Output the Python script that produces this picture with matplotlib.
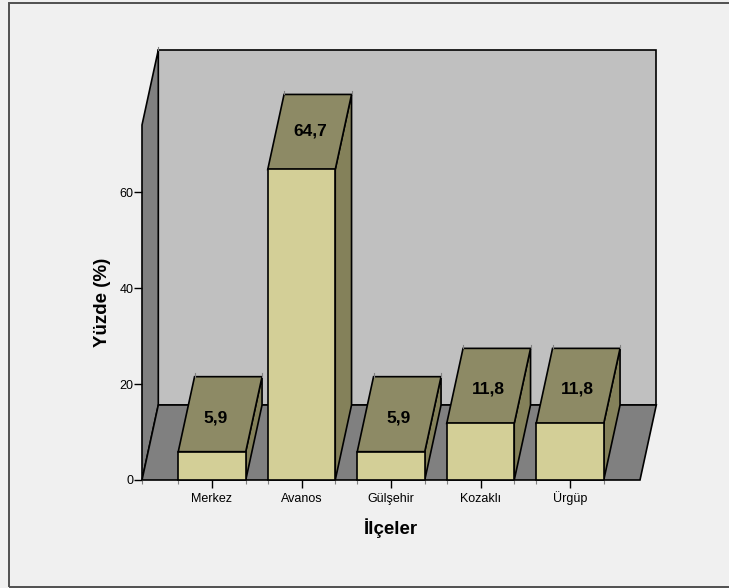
import matplotlib
matplotlib.use("Agg")
import matplotlib.pyplot as plt
from matplotlib.patches import Polygon, Rectangle

plt.rcParams['font.family'] = ['Liberation Sans', 'DejaVu Sans']

categories = ["Merkez", "Avanos", "Gülşehir", "Kozaklı", "Ürgüp"]
values = [5.9, 64.7, 5.9, 11.8, 11.8]
value_labels = ["5,9", "64,7", "5,9", "11,8", "11,8"]
y_ticks = [0, 20, 40, 60]

# small pixel nudges of the value labels from the top-face centre
label_dx = [-5, 1, -1, 0, -1]
label_dy = [-4, 1, -4, -3, -3]

W, H = 729, 588
fig = plt.figure(figsize=(W / 100, H / 100), dpi=100, facecolor="#f0f0f0")

# pixel geometry of the plotting box
L, R, B, T = 142, 640, 480, 125
ax = fig.add_axes([L / W, 1 - B / H, (R - L) / W, (B - T) / H])
XPX = 89.5
YPX = 4.8
ax.set_xlim((L - 212) / XPX, (R - 212) / XPX)
ax.set_ylim(0, (B - T) / YPX)
ax.patch.set_visible(False)
for s in ax.spines.values():
    s.set_visible(False)

DX = 16.3 / XPX
DY = 75 / YPX
BW = 67.5 / XPX
x0, x1 = ax.get_xlim()
y0, y1 = ax.get_ylim()
EC = "#000000"
LW = 1.2


def poly(pts, fc, z):
    ax.add_patch(Polygon(pts, closed=True, fc=fc, ec=EC, lw=LW, zorder=z,
                         clip_on=False, joinstyle="miter"))


# walls and floor
poly([(x0 + DX, y0 + DY), (x1 + DX, y0 + DY), (x1 + DX, y1 + DY), (x0 + DX, y1 + DY)], "#c0c0c0", 1)
poly([(x0, y0), (x0 + DX, y0 + DY), (x0 + DX, y1 + DY), (x0, y1)], "#808080", 1)
poly([(x0, y0), (x1, y0), (x1 + DX, y0 + DY), (x0 + DX, y0 + DY)], "#808080", 1)
# small grey stub at the back-left corner
ax.plot([x0 + DX, x0 + DX], [y1 + DY, y1 + DY + 3 / YPX], color="#808080", lw=0.8, clip_on=False, zorder=1)

# bars
edge_ticks = [x0]
for i, (v, lab) in enumerate(zip(values, value_labels)):
    l, r = i - BW / 2, i + BW / 2
    z = 2 + i
    poly([(r, 0), (r + DX, DY), (r + DX, v + DY), (r, v)], "#84815a", z)
    poly([(l, v), (r, v), (r + DX, v + DY), (l + DX, v + DY)], "#8d8a65", z)
    poly([(l, 0), (r, 0), (r, v), (l, v)], "#d3cf97", z)
    edge_ticks += [l, r]
    # grey stubs above the rear top corners
    for xe in (l + DX, r + DX):
        ax.plot([xe, xe], [v + DY, v + DY + 3.5 / YPX], color="#808080", lw=0.8,
                clip_on=False, zorder=z)
    ax.text(i + DX / 2 + label_dx[i] / XPX, v + DY / 2 + label_dy[i] / YPX, lab,
            ha="center", va="center", fontsize=12.5, fontweight="bold", color="black", zorder=20)

# axes
ax.set_xticks(range(len(categories)), categories)
ax.set_xticks(edge_ticks, minor=True)
ax.set_yticks(y_ticks)
ax.tick_params(axis="x", which="major", length=6, width=1, labelsize=9, pad=10, color="black")
ax.tick_params(axis="x", which="minor", length=3, width=0.8, color="#808080")
ax.tick_params(axis="y", length=6, width=1, labelsize=9, pad=0, color="black")
for t in ax.get_xticklabels():
    t.set_va("baseline")
ax.set_xlabel("İlçeler", fontsize=13.5, fontweight="bold", labelpad=9.5)
ax.xaxis.label.set_position(((391 - L) / (R - L), 0))
ax.set_ylabel("Yüzde (%)", fontsize=13.5, fontweight="bold", labelpad=6.5)

# outer frame
fig.add_artist(Rectangle((8.5 / W, 1 - 587 / H), (740 - 8.5) / W, (587 - 2.5) / H,
                         transform=fig.transFigure, fill=False, ec="#505050", lw=1.4))

fig.savefig("out.png", dpi=100, facecolor=fig.get_facecolor())
